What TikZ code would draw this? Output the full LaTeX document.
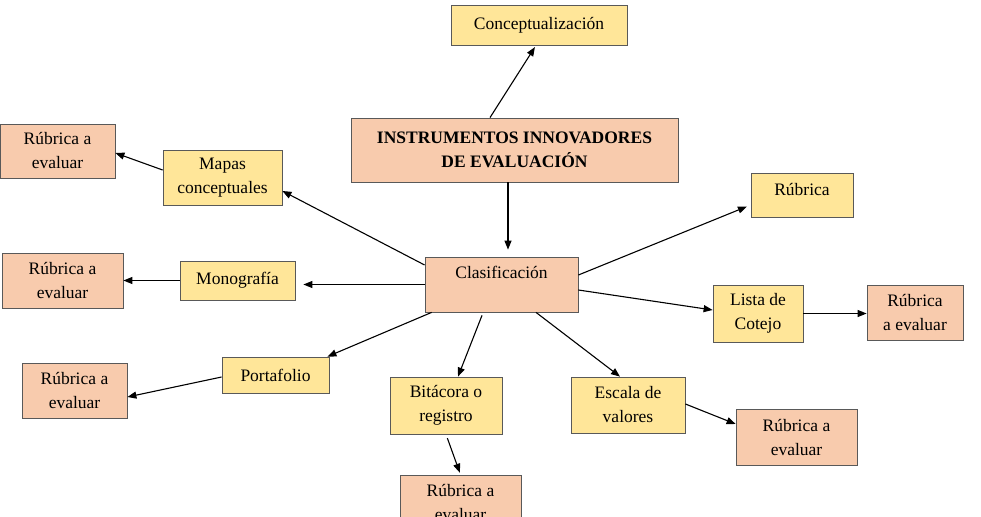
\documentclass[tikz,border=0pt]{standalone}
\usepackage{fontspec}
\setmainfont{Liberation Serif}
\usetikzlibrary{arrows.meta}
\definecolor{boxyellow}{HTML}{FFE699}
\definecolor{boxsalmon}{HTML}{F8CBAD}

\begin{document}
\begin{tikzpicture}[x=1pt, y=-1pt,
            box/.style={draw=black!65, line width=0.8pt, align=center, inner sep=0pt,
                    font=\fontsize{17.5}{24}\selectfont},
            tool/.style={box, fill=boxyellow},
            rub/.style={box, fill=boxsalmon},
            arr/.style={-{Triangle[length=9pt, width=7pt]}, line width=1.1pt}]
        \useasboundingbox (0,0) rectangle (981,516);
        \node[rub, minimum width=327pt, minimum height=64pt,
              font=\fontsize{17.5}{24}\selectfont\bfseries] (inst) at (514.5,150)
              {INSTRUMENTOS INNOVADORES\\DE EVALUACIÓN};
        \node[tool, minimum width=176pt, minimum height=40pt] (con) at (539,25) {Conceptualización};
        \node[rub, minimum width=153pt, minimum height=55pt, text depth=25pt] (clas) at (501.5,284.5) {Clasificación};
        \node[tool, minimum width=119pt, minimum height=55pt] (mapas) at (222.5,177.5) {Mapas\\conceptuales};
        \node[rub, minimum width=115pt, minimum height=54pt] (rubmap) at (57.5,151) {Rúbrica a\\evaluar};
        \node[tool, minimum width=115pt, minimum height=39pt] (mono) at (237.5,280.5) {Monografía};
        \node[rub, minimum width=121pt, minimum height=55pt] (rubmono) at (62.5,280.5) {Rúbrica a\\evaluar};
        \node[tool, minimum width=107pt, minimum height=36pt] (port) at (275.5,375) {Portafolio};
        \node[rub, minimum width=105pt, minimum height=55pt] (rubport) at (74.5,390.5) {Rúbrica a\\evaluar};
        \node[tool, minimum width=112pt, minimum height=57pt] (bit) at (446,405.5) {Bitácora o\\registro};
        \node[rub, minimum width=121pt, minimum height=55pt] (rubbit) at (460.5,502.5) {Rúbrica a\\evaluar};
        \node[tool, minimum width=114pt, minimum height=56pt] (esc) at (628,405) {Escala de\\valores};
        \node[rub, minimum width=121pt, minimum height=56pt] (rubesc) at (796.5,437) {Rúbrica a\\evaluar};
        \node[tool, minimum width=102pt, minimum height=44pt, text depth=12pt] (rubr) at (802,195) {Rúbrica};
        \node[tool, minimum width=90pt, minimum height=57pt] (lista) at (758,313.5) {Lista de\\Cotejo};
        \node[rub, minimum width=96pt, minimum height=55pt] (rublista) at (915,312.5) {Rúbrica\\a evaluar};
        \draw[arr, shorten >=2pt] ([xshift=-24.5pt]inst.north) -- ([xshift=-3pt]con.south);
        \draw[arr, shorten >=7pt] ([xshift=-6.5pt]inst.south) -- ([xshift=6.5pt]clas.north);
        \draw[arr] ([yshift=19.5pt]clas.west) -- ([yshift=-13.5pt]mapas.east);
        \draw[arr, shorten >=8pt] (clas.west) -- (clas.west -| mono.east);
        \draw[arr] (mono.west) -- (mono.west -| rubmono.east);
        \draw[arr] ([yshift=7.5pt]mapas.west) -- ([yshift=-2pt]rubmap.east);
        \draw[arr] ([xshift=7pt]clas.south west) -- ([xshift=-2pt]port.north east);
        \draw[arr] ([yshift=-2pt]port.west) -- ([yshift=-6.5pt]rubport.east);
        \draw[arr] ([xshift=-19.5pt, yshift=-3pt]clas.south) -- ([xshift=12pt]bit.north);
        \draw[arr] ([xshift=34.5pt]clas.south) -- ([xshift=-8pt]esc.north);
        \draw[arr, shorten >=4pt] ([yshift=9.5pt]clas.east) -- ([yshift=-10pt]rubr.west);
        \draw[arr] ([yshift=-5.5pt]clas.east) -- ([yshift=3.5pt]lista.west);
        \draw[arr] (lista.east) -- (lista.east -| rublista.west);
        \draw[arr, shorten <=4pt, shorten >=2pt] (bit.south) -- (rubbit.north);
        \draw[arr] ([yshift=1pt]esc.east) -- ([yshift=13pt]rubesc.west);
    \end{tikzpicture}
\end{document}
